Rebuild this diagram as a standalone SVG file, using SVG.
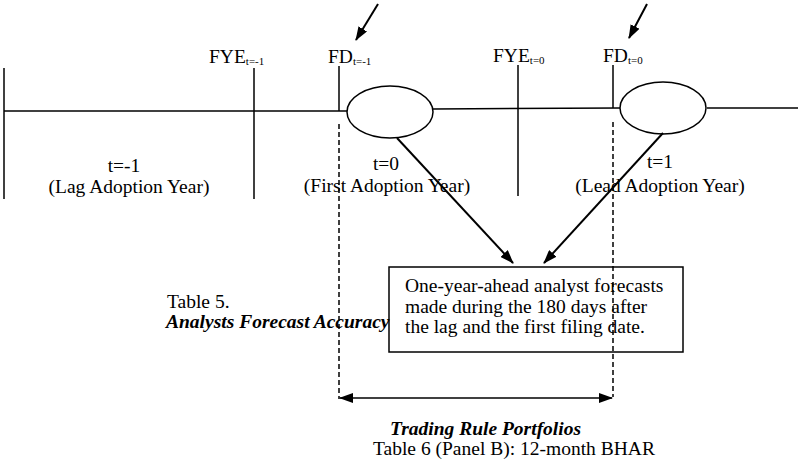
<svg xmlns="http://www.w3.org/2000/svg" width="798" height="461" viewBox="0 0 798 461">
<style>
text{font-family:"Liberation Serif","Times New Roman",serif;font-size:19.5px;fill:#000}
.sub{font-size:11px}
.bi{font-family:"Liberation Serif","Times New Roman",serif;font-weight:700;font-style:italic}
.ln{stroke:#000;stroke-width:1.5;fill:none}
.ar{stroke:#000;stroke-width:2;fill:none}
.ds{stroke:#000;stroke-width:1.5;fill:none;stroke-dasharray:5,3}
</style>
<defs>
<marker id="ah" viewBox="0 0 14 10" refX="13" refY="5" markerWidth="14" markerHeight="10" markerUnits="userSpaceOnUse" orient="auto-start-reverse">
<path d="M0,0 L14,5 L0,10 Z" fill="#000"/>
</marker>
</defs>
<rect width="798" height="461" fill="#fff"/>
<g id="timeline">
<line class="ln" x1="4" y1="111" x2="347" y2="111"/>
<line class="ln" x1="433" y1="109" x2="620" y2="108"/>
<line class="ln" x1="707" y1="108" x2="798" y2="108"/>
<line class="ln" x1="4" y1="68" x2="4" y2="199"/>
<line class="ln" x1="254" y1="68" x2="254" y2="199"/>
<line class="ln" x1="339" y1="66" x2="339" y2="111"/>
<line class="ln" x1="518" y1="65" x2="518" y2="196"/>
<line class="ln" x1="613" y1="65" x2="613" y2="108"/>
</g>
<g id="ellipse-t0"><ellipse class="ln" cx="390" cy="112" rx="43" ry="26"/></g>
<g id="ellipse-t1"><ellipse class="ln" cx="663" cy="108" rx="43" ry="26"/></g>
<g id="labels-top">
<text x="209" y="63">FYE<tspan class="sub" dy="2">t=-1</tspan></text>
<text x="328" y="63">FD<tspan class="sub" dy="2">t=-1</tspan></text>
<text x="493" y="62">FYE<tspan class="sub" dy="2">t=0</tspan></text>
<text x="603" y="62">FD<tspan class="sub" dy="2">t=0</tspan></text>
</g>
<g id="period-lag">
<text x="124" y="172" text-anchor="middle">t=-1</text>
<text x="129" y="193" text-anchor="middle">(Lag Adoption Year)</text>
</g>
<g id="period-first">
<text x="386" y="170" text-anchor="middle">t=0</text>
<text x="387" y="192" text-anchor="middle">(First Adoption Year)</text>
</g>
<g id="period-lead">
<text x="660" y="168" text-anchor="middle">t=1</text>
<text x="660" y="192" text-anchor="middle">(Lead Adoption Year)</text>
</g>
<g id="forecast-box">
<rect class="ln" x="389" y="267" width="294" height="85"/>
<text x="405" y="292">One-year-ahead analyst forecasts</text>
<text x="405" y="313">made during the 180 days after</text>
<text x="405" y="333">the lag and the first filing date.</text>
</g>
<g id="table5">
<text x="167" y="308">Table 5.</text>
<text class="bi" x="166" y="328">Analysts Forecast Accuracy</text>
</g>
<g id="trading">
<text class="bi" x="390" y="435">Trading Rule Portfolios</text>
<text x="373" y="455">Table 6 (Panel B): 12-month BHAR</text>
</g>
<g id="connectors">
<line class="ar" x1="378" y1="4" x2="356" y2="40" marker-end="url(#ah)"/>
<line class="ar" x1="647" y1="4" x2="629" y2="38" marker-end="url(#ah)"/>
<line class="ar" x1="397" y1="138" x2="513" y2="263" marker-end="url(#ah)"/>
<line class="ar" x1="663" y1="133" x2="544" y2="263" marker-end="url(#ah)"/>
<line class="ds" x1="339" y1="124" x2="339" y2="399"/>
<line class="ds" x1="613" y1="122" x2="613" y2="397"/>
<line class="ln" x1="340" y1="398" x2="612" y2="398" marker-start="url(#ah)" marker-end="url(#ah)"/>
</g>
</svg>
